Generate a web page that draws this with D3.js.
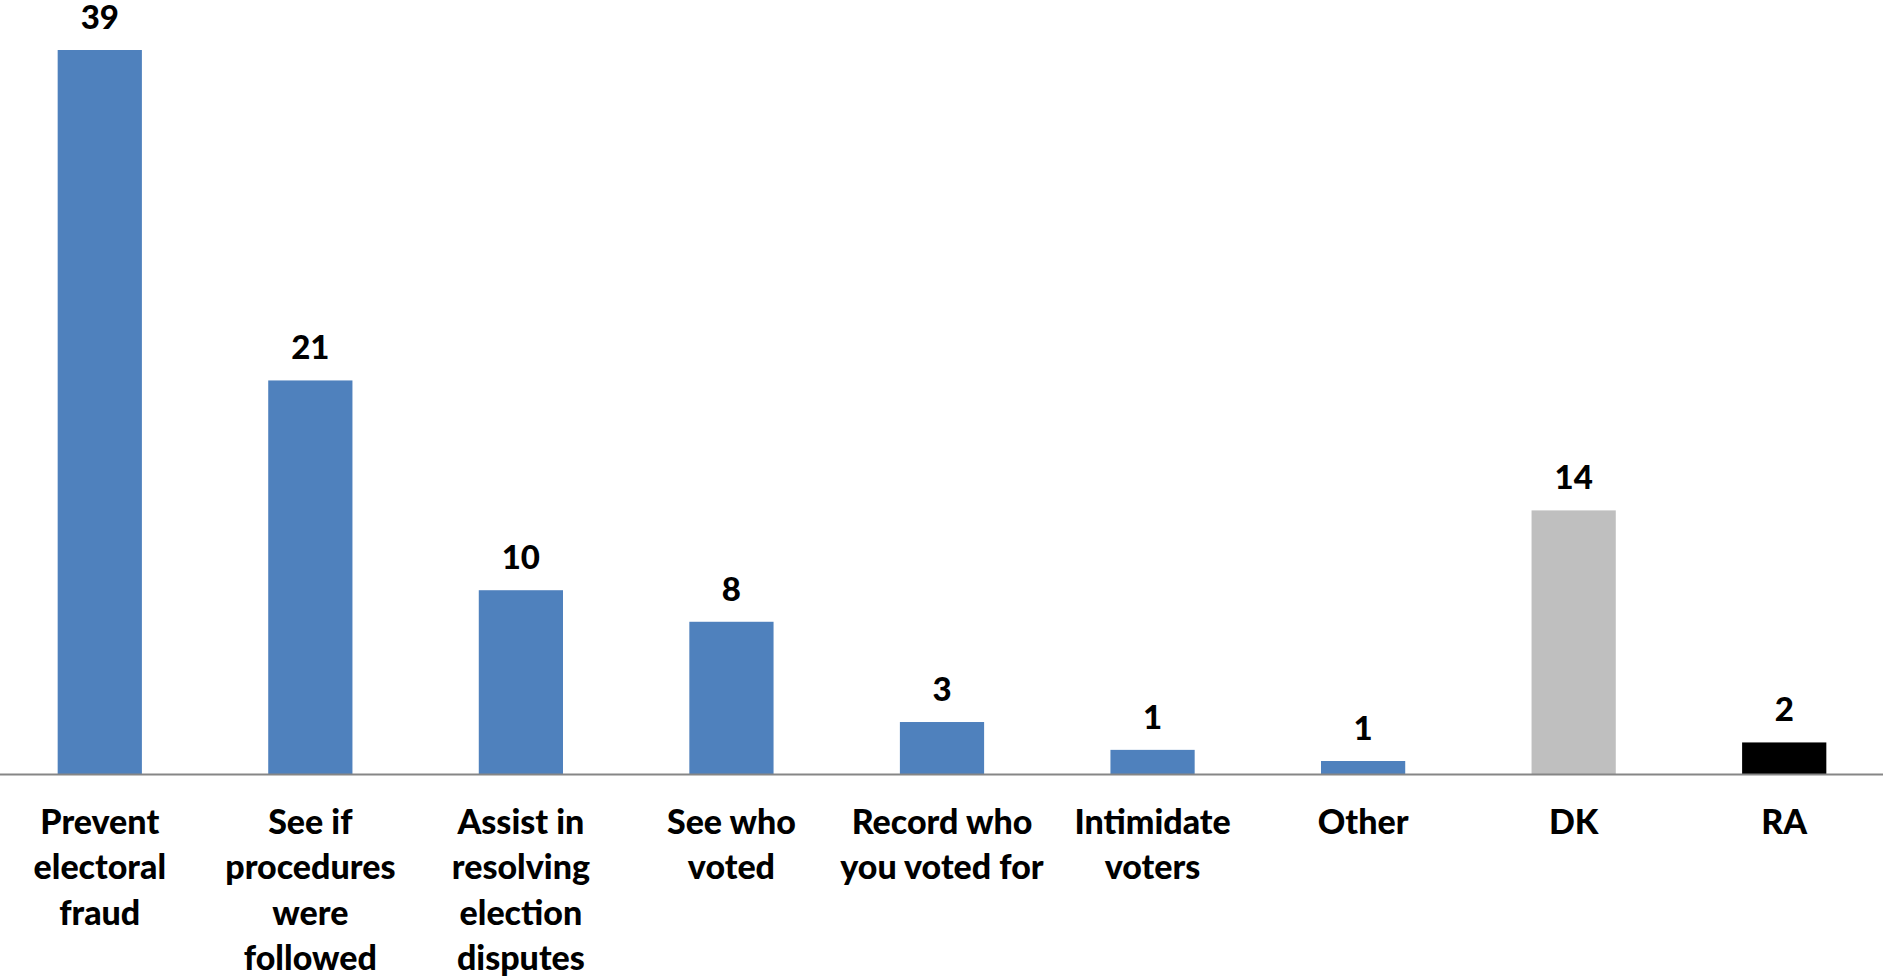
<!DOCTYPE html>
<html>
<head>
<meta charset="utf-8">
<script src="https://cdn.jsdelivr.net/npm/d3@7"></script>
<style>
  html, body { margin: 0; padding: 0; background: #ffffff; }
  svg { display: block; }
  text { font-family: "Lato", "DejaVu Sans", sans-serif; font-weight: 900; fill: #000; }
</style>
</head>
<body>
<svg id="chart" width="1883" height="980"></svg>
<script>
// Categories (line breaks as in the original chart)
const categories = [
  "Prevent\nelectoral\nfraud",
  "See if\nprocedures\nwere\nfollowed",
  "Assist in\nresolving\nelection\ndisputes",
  "See who\nvoted",
  "Record who\nyou voted for",
  "Intimidate\nvoters",
  "Other",
  "DK",
  "RA"
];
// Bar heights (percent)
const values = [39, 21.2, 9.9, 8.2, 2.8, 1.3, 0.7, 14.2, 1.7];
// Labels printed above bars
const valueLabels = ["39", "21", "10", "8", "3", "1", "1", "14", "2"];
// Bar colour group
const groups = ["blue", "blue", "blue", "blue", "blue", "blue", "blue", "gray", "black"];

const colorMap = { blue: "#4F81BD", gray: "#BFBFBF", black: "#000000" };

const W = 1883, H = 980;
const baseline = 774;
const topY = 50;

const svg = d3.select("#chart");

const x = d3.scaleBand()
  .domain(d3.range(categories.length))
  .range([-5.5, 1889.5])
  .paddingInner(0.6)
  .paddingOuter(0.3);

const y = d3.scaleLinear()
  .domain([0, 39])
  .range([baseline, topY]);

// bars
svg.append("g").selectAll("rect")
  .data(values)
  .join("rect")
  .attr("x", (d, i) => x(i))
  .attr("width", x.bandwidth())
  .attr("y", d => y(d))
  .attr("height", d => baseline - y(d))
  .attr("fill", (d, i) => colorMap[groups[i]]);

// axis line
const xAxis = d3.axisBottom(x).tickSize(0).tickFormat("");
const axisG = svg.append("g").attr("transform", `translate(0,${baseline})`).call(xAxis);
axisG.select(".domain").remove();
axisG.append("line")
  .attr("x1", 0).attr("x2", W)
  .attr("y1", 0.5).attr("y2", 0.5)
  .attr("stroke", "#868686").attr("stroke-width", 2);

// value labels
svg.append("g").selectAll("text")
  .data(values)
  .join("text")
  .attr("x", (d, i) => x(i) + x.bandwidth() / 2)
  .attr("y", d => y(d) - 21)
  .attr("text-anchor", "middle")
  .style("font-size", "33px")
  .text((d, i) => valueLabels[i]);

// category labels
const catG = svg.append("g");
categories.forEach((c, i) => {
  const t = catG.append("text")
    .attr("x", x(i) + x.bandwidth() / 2)
    .attr("y", 834)
    .attr("text-anchor", "middle")
    .style("font-size", "34px");
  c.split("\n").forEach((line, j) => {
    t.append("tspan")
      .attr("x", x(i) + x.bandwidth() / 2)
      .attr("y", 834 + j * 45.3)
      .text(line);
  });
});
</script>
</body>
</html>
